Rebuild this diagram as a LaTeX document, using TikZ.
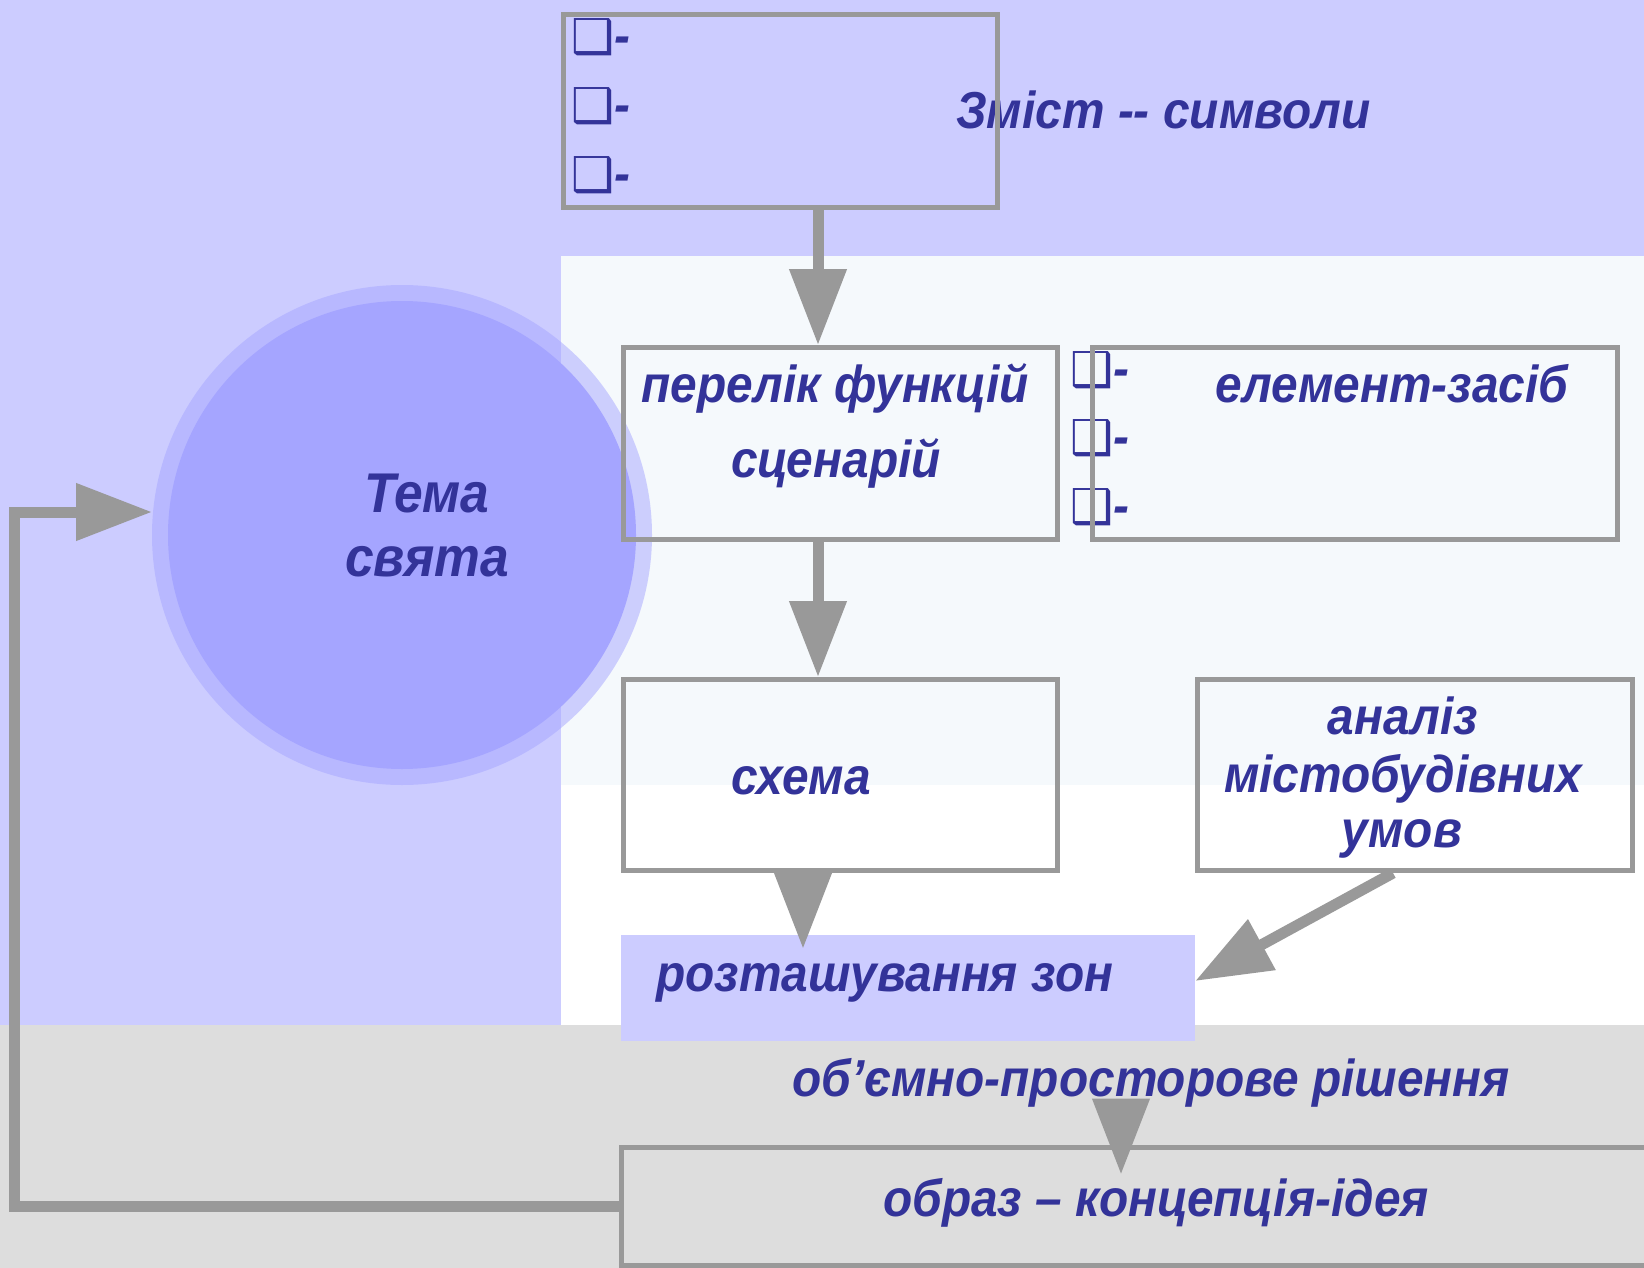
\documentclass[tikz,border=0pt]{standalone}
\usepackage{fontspec}
\setmainfont{Liberation Sans}[FakeStretch=0.92]
\newfontfamily\dejavu{DejaVu Sans}
\usetikzlibrary{arrows.meta}

\definecolor{lavanda}{HTML}{CCCCFF}
\definecolor{svitlyi}{HTML}{F5F9FC}
\definecolor{siryi}{HTML}{DDDDDD}
\definecolor{liniia}{HTML}{999999}
\definecolor{synii}{HTML}{333399}
\definecolor{kolo}{HTML}{A5A5FF}

\tikzset{
  blok/.style={draw=liniia, line width=5pt, inner sep=0pt},
  napys/.style={text=synii, inner sep=0pt, font=\fontsize{52}{60}\selectfont\bfseries\itshape},
  strilka/.style={draw=liniia, line width=11pt, -{Triangle[width=55pt,length=76pt]}},
}
\newcommand{\punkt}{{\dejavu\mdseries\upshape\fontsize{48}{50}\selectfont ❑}-}

\begin{document}
\begin{tikzpicture}[x=1pt, y=-1pt, >=latex]
\clip (0,0) rectangle (1644,1268);

% Тло
\fill[lavanda] (0,0) rectangle (1644,1268);
\fill[svitlyi] (561,256) rectangle (1644,785);
\fill[white] (561,785) rectangle (1644,1025);
\fill[siryi] (0,1025) rectangle (1644,1268);

% Коло: тема свята
\node[circle, fill=kolo, opacity=.5, minimum size=500pt, inner sep=0pt] (oreol) at (402,535) {};
\node[circle, fill=kolo, minimum size=468pt, inner sep=0pt] (tema) at (402,535) {};
\node[napys, font=\fontsize{56}{60}\selectfont\bfseries\itshape, anchor=base] (tema1) at (427,512) {Тема};
\node[napys, font=\fontsize{56}{60}\selectfont\bfseries\itshape, anchor=base] (tema2) at (427,576) {свята};

% Розташування зон (заливка)
\node[fill=lavanda, minimum width=574pt, minimum height=106pt, inner sep=0pt] (zony) at (908,988) {};

% Написи
\node[napys, anchor=base west] (zmistt) at (956,129) {Зміст -{}- символи};
\node[napys, anchor=base] (perelik1) at (835,402) {перелік функцій};
\node[napys, anchor=base] (perelik2) at (836,477) {сценарій};
\node[napys, anchor=base] (elem) at (1392,402) {елемент-засіб};
\node[napys, anchor=base] (sxemat) at (801,794) {схема};
\node[napys, anchor=base] (an1) at (1403,734) {аналіз};
\node[napys, anchor=base] (an2) at (1403,792) {містобудівних};
\node[napys, anchor=base] (an3) at (1402,847) {умов};
\node[napys, anchor=base west] (zonyt) at (656,991) {розташування зон};
\node[napys, anchor=base] (rishennia) at (1151,1096) {об’ємно-просторове рішення};
\node[napys, anchor=base] (obrazt) at (1156,1216) {образ – концепція-ідея};

% Маркери
\foreach \y [count=\i] in {37,106,175}
  \node[napys, anchor=west] (zm\i) at (571,\y) {\punkt};
\foreach \y [count=\i] in {370,438,507}
  \node[napys, anchor=west] (el\i) at (1070,\y) {\punkt};

% Блоки
\node[blok, minimum width=434pt, minimum height=193pt] (zmist) at (780,111.5) {};
\node[blok, minimum width=434pt, minimum height=192pt] (perelik) at (840.5,443.5) {};
\node[blok, minimum width=525pt, minimum height=192pt] (element) at (1355,443.5) {};
\node[blok, minimum width=434pt, minimum height=191pt] (sxema) at (840.5,775) {};
\node[blok, minimum width=435pt, minimum height=191pt] (analiz) at (1415,775) {};
\node[blok, minimum width=1060pt, minimum height=118pt] (obraz) at (1151.5,1206.5) {};

% Стрілки
\coordinate (os) at (818,0);
\coordinate (os3) at (803,0);
\coordinate (v5) at (1121,1099);
\coordinate (vhid) at (152,512);
\draw[strilka] (zmist.south -| os) -- (perelik.north -| os);
\draw[strilka] (perelik.south -| os) -- (sxema.north -| os);
\draw[strilka, shorten >=-14pt] (sxema.south -| os3) -- (zony.north -| os3);
\draw[strilka] ([xshift=-22pt]analiz.south) -- ([yshift=7pt]zony.east);
\draw[strilka, shorten >=-29.5pt] (v5) -- (v5 |- obraz.north);

% Зворотний зв'язок
\draw[strilka] (obraz.west) -- ++(-605,0) |- (vhid);

\end{tikzpicture}
\end{document}
